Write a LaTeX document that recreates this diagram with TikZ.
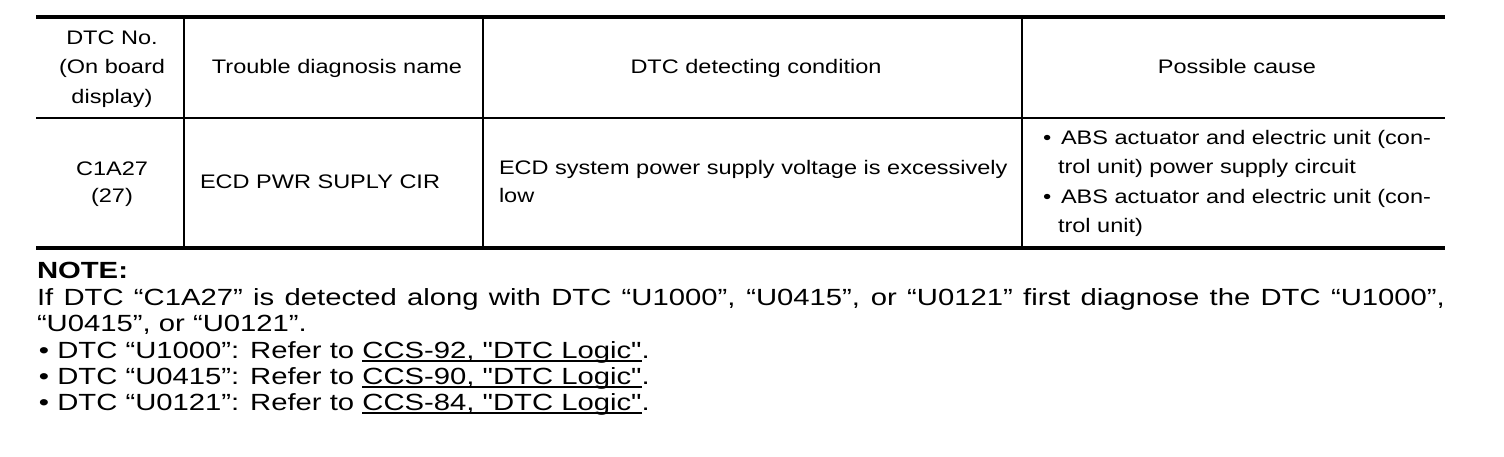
\documentclass[tikz,border=0pt]{standalone}
\usepackage{fontspec}
\newfontfamily\tabfont{Liberation Sans}[FakeStretch=1.2]
\newfontfamily\notefont{Liberation Sans}[FakeStretch=1.25]
\usepackage{tikz}

% link text with a tight underline
\newcommand\linkref[1]{\setbox0\hbox{#1}\rlap{\rule[-2pt]{\wd0}{0.9pt}}\box0}

\begin{document}
\begin{tikzpicture}[x=0.5pt, y=-0.5pt,
    every node/.style={inner sep=0pt, outer sep=0pt},
    cell/.style={anchor=base, font=\fontsize{9.8pt}{12pt}\tabfont},
    celltext/.style={anchor=base west, font=\fontsize{9.8pt}{12pt}\tabfont},
    noteline/.style={anchor=base west, font=\fontsize{11.7pt}{14pt}\notefont},
    thinrule/.style={line width=1pt},
    thickrule/.style={line width=1.8pt}]
            \useasboundingbox (0,0) rectangle (1504,456);

            % table rules
            \draw[thickrule] (36,17) -- (1445,17);
            \draw[thinrule]  (36,118) -- (1445,118);
            \draw[thickrule] (36,248) -- (1445,248);
            \draw[thinrule]  (184,17) -- (184,248);
            \draw[thinrule]  (483,17) -- (483,248);
            \draw[thinrule]  (1022,17) -- (1022,248);

            % header row
            \node[cell] (dtcA) at (112,44)  {DTC No.};
            \node[cell] (dtcB) at (112,73)  {(On board};
            \node[cell] (dtcC) at (112,103) {display)};
            \node[cell] (name) at (337,73)  {Trouble diagnosis name};
            \node[cell] (cond) at (756,73)  {DTC detecting condition};
            \node[cell] (cause) at (1237,73) {Possible cause};

            % data row
            \node[cell]     (codeA) at (112,175) {C1A27};
            \node[cell]     (codeB) at (112,202) {(27)};
            \node[celltext] (diag)  at (200,188) {ECD PWR SUPLY CIR};
            \node[celltext] (condA) at (499,174) {ECD system power supply voltage is excessively};
            \node[celltext] (condB) at (499,202) {low};

            \node[celltext] (dotA)   at (1043,144) {•};
            \node[celltext] (causeA) at (1061,144) {ABS actuator and electric unit (con-};
            \node[celltext] (causeB) at (1058,173) {trol unit) power supply circuit};
            \node[celltext] (dotB)   at (1043,203) {•};
            \node[celltext] (causeC) at (1061,203) {ABS actuator and electric unit (con-};
            \node[celltext] (causeD) at (1058,232) {trol unit)};

            % note
            \node[noteline, font=\fontsize{11.7pt}{14pt}\notefont\bfseries] (note) at (37,278) {NOTE:};
            \node[noteline] (noteA) at (37,305) {\makebox[704pt][s]{If DTC “C1A27” is detected along with DTC “U1000”, “U0415”, or “U0121” first diagnose the DTC “U1000”,}};
            \node[noteline] (noteB) at (37,331) {“U0415”, or “U0121”.};
            \node[noteline] (refA) at (39,358) {• DTC “U1000”: Refer to \linkref{CCS-92, "DTC Logic"}.};
            \node[noteline] (refB) at (39,384) {• DTC “U0415”: Refer to \linkref{CCS-90, "DTC Logic"}.};
            \node[noteline] (refC) at (39,410) {• DTC “U0121”: Refer to \linkref{CCS-84, "DTC Logic"}.};
        \end{tikzpicture}
\end{document}
